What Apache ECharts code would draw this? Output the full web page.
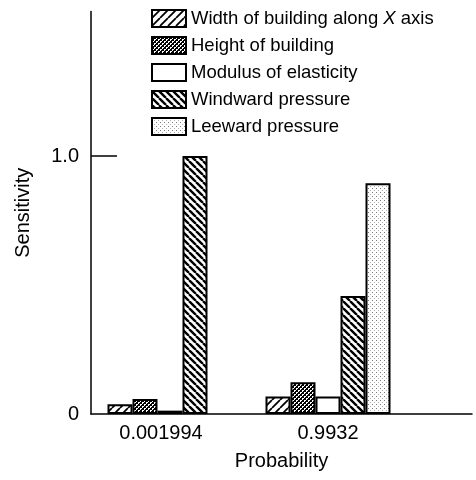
<!DOCTYPE html>
<html>
<head>
<meta charset="utf-8">
<script src="https://cdn.jsdelivr.net/npm/echarts@6/dist/echarts.min.js"></script>
<style>
  html, body { margin: 0; padding: 0; background: #fff; }
  #chart { width: 476px; height: 480px; }
</style>
</head>
<body>
<div id="chart"></div>
<script>
// data
var categories = ['0.001994', '0.9932']
var seriesNames = [
  'Width of building along X axis',
  'Height of building',
  'Modulus of elasticity',
  'Windward pressure',
  'Leeward pressure'
]
var widthVals = [0.038, 0.068]
var heightVals = [0.058, 0.123]
var modulusVals = [0.013, 0.068]
var windwardVals = [1.0, 0.457]
var leewardVals = [null, 0.894]
var yTicks = [0, 1]

var FONT = '"Liberation Sans", Arial, Helvetica, sans-serif'

// little canvas tiles for the black & white fills
function tile (size, draw) {
  var c = document.createElement('canvas')
  c.width = size
  c.height = size
  var ctx = c.getContext('2d')
  ctx.fillStyle = '#fff'
  ctx.fillRect(0, 0, size, size)
  draw(ctx, size)
  return { image: c, repeat: 'repeat' }
}

function hatch (size, lw, dir) {
  return tile(size, function (ctx, s) {
    ctx.strokeStyle = '#000'
    ctx.lineWidth = lw
    ctx.beginPath()
    for (var k = -s; k <= s; k += s) {
      if (dir === '/') {
        ctx.moveTo(k, s)
        ctx.lineTo(k + s, 0)
      } else {
        ctx.moveTo(k, 0)
        ctx.lineTo(k + s, s)
      }
    }
    ctx.stroke()
  })
}

var fillWidth = hatch(8, 1.8, '/')
var fillWindward = hatch(7, 2.4, '\\')
var fillHeight = tile(4, function (ctx) {
  ctx.fillStyle = '#000'
  ctx.fillRect(0, 0, 4, 4)
  ctx.fillStyle = '#fff'
  ctx.fillRect(0, 0, 2, 1)
  ctx.fillRect(0, 1, 1, 1)
  ctx.fillRect(2, 2, 2, 1)
  ctx.fillRect(2, 3, 1, 1)
})
var fillLeeward = tile(4, function (ctx) {
  ctx.fillStyle = '#777'
  ctx.fillRect(0, 0, 1, 1)
  ctx.fillStyle = '#b0b0b0'
  ctx.fillRect(2, 2, 1, 1)
})

function barSeries (name, data, fill) {
  return {
    name: name,
    type: 'bar',
    xAxisIndex: 0,
    yAxisIndex: 0,
    barWidth: 25,
    barGap: '0%',
    data: data,
    itemStyle: {
      color: fill,
      borderColor: '#000',
      borderWidth: 2
    },
    emphasis: { disabled: true }
  }
}

var chart = echarts.init(document.getElementById('chart'))

chart.setOption({
  animation: false,
  backgroundColor: '#fff',
  textStyle: { fontFamily: FONT, color: '#000' },
  legend: {
    orient: 'vertical',
    left: 146,
    top: 4,
    itemWidth: 34,
    itemHeight: 17,
    itemGap: 8,
    icon: 'rect',
    data: seriesNames,
    formatter: function (name) {
      return name.replace('X axis', '{i|X} axis')
    },
    textStyle: {
      fontFamily: FONT,
      fontSize: 18.5,
      color: '#000',
      rich: {
        i: { fontFamily: FONT, fontSize: 18.5, fontStyle: 'italic', color: '#000' }
      }
    }
  },
  grid: [
    { left: 91, width: 316, top: 11.5, bottom: 66 },
    { left: 91, right: 4, top: 11.5, bottom: 66 }
  ],
  xAxis: [
    {
      type: 'category',
      gridIndex: 0,
      data: categories,
      axisLine: { show: false },
      axisTick: { show: false },
      axisLabel: {
        fontFamily: FONT,
        fontSize: 20,
        color: '#000',
        margin: 9,
        formatter: function (v, i) {
          return i === 0 ? '{a|' + v + '}' : '{b|' + v + '}'
        },
        rich: {
          a: { fontFamily: FONT, fontSize: 20, color: '#000', padding: [0, 18, 0, 0] },
          b: { fontFamily: FONT, fontSize: 20, color: '#000' }
        }
      }
    },
    {
      // long baseline + axis title, spans past the bars
      type: 'value',
      gridIndex: 1,
      min: 0,
      max: 1,
      axisLine: { show: true, lineStyle: { color: '#000', width: 1.5 } },
      axisTick: { show: false },
      axisLabel: { show: false },
      splitLine: { show: false },
      name: 'Probability',
      nameLocation: 'middle',
      nameGap: 37,
      nameTextStyle: { fontFamily: FONT, fontSize: 20, color: '#000' }
    }
  ],
  yAxis: [
    {
      type: 'value',
      gridIndex: 0,
      min: 0,
      max: 1.56,
      name: 'Sensitivity',
      nameLocation: 'middle',
      nameRotate: 90,
      nameGap: 58,
      nameTextStyle: { fontFamily: FONT, fontSize: 20, color: '#000' },
      axisLine: { show: true, lineStyle: { color: '#000', width: 1.5 } },
      axisTick: {
        show: true,
        inside: true,
        length: 26,
        customValues: [1],
        lineStyle: { color: '#000', width: 1.5 }
      },
      axisLabel: {
        customValues: yTicks,
        fontFamily: FONT,
        fontSize: 20,
        color: '#000',
        margin: 12,
        formatter: function (v) {
          return v === 0 ? '0' : v.toFixed(1)
        }
      },
      splitLine: { show: false }
    },
    {
      type: 'value',
      gridIndex: 1,
      min: 0,
      max: 1,
      show: false
    }
  ],
  series: [
    barSeries(seriesNames[0], widthVals, fillWidth),
    barSeries(seriesNames[1], heightVals, fillHeight),
    barSeries(seriesNames[2], modulusVals, '#fff'),
    barSeries(seriesNames[3], windwardVals, fillWindward),
    barSeries(seriesNames[4], leewardVals, fillLeeward)
  ]
})
</script>
</body>
</html>
